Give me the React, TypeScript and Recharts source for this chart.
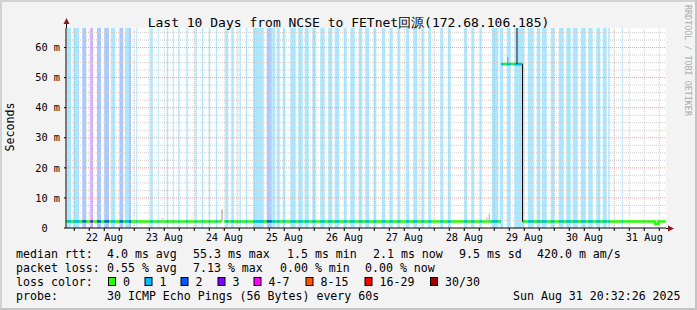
import { ComposedChart, Line, XAxis, YAxis, ReferenceArea, ReferenceLine } from "recharts";

const MONO = "'DejaVu Sans Mono', 'Liberation Mono', monospace";

// time is in hours since 22 Aug 00:00
const T_START = -3.3;
const T_END = 236.7;
const Y_MAX = 66.5;

const DAY_LABELS = ["22 Aug", "23 Aug", "24 Aug", "25 Aug", "26 Aug", "27 Aug", "28 Aug", "29 Aug", "30 Aug", "31 Aug"];
const DAY_NOONS = [12, 36, 60, 84, 108, 132, 156, 180, 204, 228];
const MIDNIGHTS = [0, 24, 48, 72, 96, 120, 144, 168, 192, 216];
const SIX_HOURS = [
  0, 6, 12, 18, 24, 30, 36, 42, 48, 54, 60, 66, 72, 78, 84, 90, 96, 102, 108, 114,
  120, 126, 132, 138, 144, 150, 156, 162, 168, 174, 180, 186, 192, 198, 204, 210, 216, 222, 228, 234,
];
const Y_TICKS = [0, 10, 20, 30, 40, 50, 60];
const Y_MINOR = [2.5, 5, 7.5, 12.5, 15, 17.5, 22.5, 25, 27.5, 32.5, 35, 37.5, 42.5, 45, 47.5, 52.5, 55, 57.5, 62.5, 65];

const LOSS_LABELS = ["0", "1", "2", "3", "4-7", "8-15", "16-29", "30/30"];
const LOSS_COLORS = ["#26ff00", "#00b8ff", "#0059ff", "#7e00ff", "#ff00ff", "#ff5500", "#ff0000", "#a10000"];

// packet loss intervals: [from h, to h, loss colour index]
const LOSS_STRIPES: [number, number, number][] = [
  [-2.9, -1.3, 1], [-0.3, 2.0, 1], [3.2, 4.8, 2], [6.4, 7.5, 3], [9.1, 10.7, 2],
  [12.0, 13.9, 2], [14.7, 16.4, 1], [18.1, 19.6, 2], [20.3, 21.9, 1], [21.9, 22.7, 2],
  [24.8, 25.2, 1], [30.4, 31.4, 1], [33.4, 33.8, 1], [37.0, 37.6, 1], [39.4, 39.8, 1],
  [41.6, 42.0, 1], [44.8, 45.4, 1], [48.4, 49.0, 1], [51.0, 51.6, 1], [53.8, 54.4, 1],
  [56.6, 57.2, 1], [60.4, 61.6, 1], [62.8, 63.8, 1], [65.0, 65.4, 1], [66.2, 66.6, 1],
  [68.6, 69.2, 1], [71.6, 75.8, 1], [77.0, 79.0, 2], [79.2, 80.4, 1], [81.0, 82.2, 1],
  [83.4, 84.4, 1], [86.4, 88.6, 1], [89.6, 91.4, 1], [92.2, 93.8, 1], [95.2, 96.6, 1],
  [98.4, 100.2, 1], [101.6, 103.2, 1], [104.2, 106.0, 1], [107.8, 109.0, 1], [110.4, 112.2, 1],
  [113.8, 115.2, 1], [116.4, 118.0, 1], [119.8, 120.8, 1], [123.0, 124.4, 1], [126.2, 127.4, 1],
  [129.2, 130.4, 1], [132.6, 134.0, 1], [135.6, 137.2, 1], [138.8, 140.0, 1], [141.6, 142.8, 1],
  [146.4, 147.6, 1], [149.4, 150.6, 1], [156.0, 157.2, 1], [158.8, 160.0, 1], [162.2, 163.0, 1],
  [167.0, 169.6, 1], [170.2, 171.6, 1], [173.0, 174.6, 1], [176.0, 180.0, 1], [181.4, 183.8, 1],
  [185.0, 186.4, 1], [187.0, 189.0, 1], [190.6, 192.0, 1], [193.8, 195.8, 1], [196.8, 198.6, 1],
  [199.4, 201.4, 1], [202.6, 204.6, 1], [205.6, 207.4, 1], [208.8, 210.4, 1], [211.4, 213.0, 1],
  [213.6, 214.2, 1], [219.0, 219.4, 1],
];

// median rtt in ms as steps: [from h, to h, ms]
const MEDIAN_STEPS: [number, number, number][] = [
  [-3.3, 59.0, 2.2],
  [60.0, 170.6, 2.2],
  [170.8, 179.3, 54.5],
  [179.3, 232.3, 2.2],
  [232.3, 233.6, 1.4],
  [233.6, 236.6, 2.2],
];

// smoke: [h, lowest ms, highest ms, pings in range]
const SMOKE: [number, number, number, number][] = [
  [35.2, 2.2, 3.4, 2],
  [47.1, 2.2, 3.0, 2],
  [59.1, 2.2, 6.2, 8],
  [165.0, 2.2, 3.6, 3],
  [166.0, 2.2, 4.6, 6],
  [173.4, 54.5, 56.9, 8],
  [177.1, 54.5, 66.5, 28],
  [179.3, 2.2, 54.5, 30],
];

const RTT_STATS = ["4.0 ms avg", "55.3 ms max", "1.5 ms min", "2.1 ms now", "9.5 ms sd", "420.0 m am/s"];
const LOSS_STATS = ["0.55 % avg", "7.13 % max", "0.00 % min", "0.00 % now"];
const TITLE = "Last 10 Days from NCSE to FETnet回源(172.68.106.185)";
const PROBE = "30 ICMP Echo Pings (56 Bytes) every 60s";
const STAMP = "Sun Aug 31 20:32:26 2025";

const RTT_X = [107, 193, 287, 373, 459, 537];
const LOSS_X = [107, 193, 280, 365];
const BOX_X = [108.5, 145, 181, 218, 254, 306, 365, 430.5];

const tint = (hex: string, k: number) => {
  const n = parseInt(hex.slice(1), 16);
  const ch = [(n >> 16) & 255, (n >> 8) & 255, n & 255].map((c) => Math.round(255 - (255 - c) * k));
  return `rgb(${ch.join(",")})`;
};

const medianData: { t: number; ms: number | null }[] = [];
MEDIAN_STEPS.forEach(([a, b, v], i) => {
  const prev = MEDIAN_STEPS[i - 1];
  if (prev && (a > prev[1] || Math.abs(v - prev[2]) > 10)) {
    medianData.push({ t: (prev[1] + a) / 2, ms: null });
  }
  medianData.push({ t: a, ms: v }, { t: b, ms: v });
});

const lossPieces = LOSS_STRIPES.flatMap(([a, b, lvl]) =>
  MEDIAN_STEPS.filter(([s, e]) => e > a && s < b).map(([s, e, v]) => ({
    x1: Math.max(a, s),
    x2: Math.min(b, e),
    y: v,
    lvl,
  }))
);

const dayLabel = (v: number) => {
  const i = DAY_NOONS.indexOf(v);
  return i >= 0 ? DAY_LABELS[i] : "";
};

const LINE_W = 2.5;

export default function App() {
  return (
    <div
      style={{
        position: "absolute",
        left: 0,
        top: 0,
        width: 697,
        height: 310,
        background: "#f3f3f3",
        fontFamily: MONO,
      }}
    >
      <ComposedChart
        width={697}
        height={310}
        data={medianData}
        margin={{ top: 28, right: 31, bottom: 52, left: 16 }}
      >
        <ReferenceArea x1={T_START} x2={T_END} y1={0} y2={Y_MAX} fill="#ffffff" fillOpacity={1} stroke="none" />
        {LOSS_STRIPES.map(([a, b, lvl], i) => (
          <ReferenceArea
            key={`s${i}`}
            x1={a}
            x2={b}
            y1={0}
            y2={Y_MAX}
            fill={tint(LOSS_COLORS[lvl], 0.33)}
            fillOpacity={1}
            stroke="none"
          />
        ))}
        {Y_MINOR.map((v) => (
          <ReferenceLine key={`ym${v}`} y={v} stroke="#cfcfcf" strokeDasharray="1 1" />
        ))}
        {SIX_HOURS.filter((v) => !MIDNIGHTS.includes(v)).map((v) => (
          <ReferenceLine key={`xm${v}`} x={v} stroke="#cfcfcf" strokeDasharray="1 1" />
        ))}
        {Y_TICKS.filter((v) => v > 0).map((v) => (
          <ReferenceLine key={`yM${v}`} y={v} stroke="#f0a0a0" strokeDasharray="1 1" />
        ))}
        {MIDNIGHTS.map((v) => (
          <ReferenceLine key={`xM${v}`} x={v} stroke="#f0a0a0" strokeDasharray="1 1" />
        ))}
        <XAxis
          dataKey="t"
          type="number"
          domain={[T_START, T_END]}
          allowDataOverflow
          ticks={SIX_HOURS}
          interval={0}
          tickFormatter={dayLabel}
          tickSize={3}
          tickMargin={3}
          height={30}
          axisLine={{ stroke: "#000" }}
          tickLine={{ stroke: "#000" }}
          tick={{ fontSize: 10.3, fontFamily: MONO, fill: "#000" }}
        />
        <YAxis
          type="number"
          domain={[0, Y_MAX]}
          allowDataOverflow
          ticks={Y_TICKS}
          interval={0}
          width={50}
          tickSize={2}
          tickMargin={4}
          tickFormatter={(v: number) => (v === 0 ? "0\u00a0\u00a0" : `${v} m`)}
          axisLine={{ stroke: "#000" }}
          tickLine={{ stroke: "#000" }}
          tick={{ fontSize: 10.3, fontFamily: MONO, fill: "#000" }}
        />
        <Line
          dataKey="ms"
          type="linear"
          stroke={LOSS_COLORS[0]}
          strokeWidth={LINE_W}
          dot={false}
          activeDot={false}
          connectNulls={false}
          isAnimationActive={false}
        />
        {lossPieces.map((p, i) => (
          <ReferenceLine
            key={`p${i}`}
            segment={[
              { x: p.x1, y: p.y },
              { x: p.x2, y: p.y },
            ]}
            stroke={LOSS_COLORS[p.lvl]}
            strokeWidth={LINE_W}
          />
        ))}
        {SMOKE.map(([t, lo, hi, n], i) => {
          const g = Math.round(200 - (n / 30) * 190);
          return (
            <ReferenceLine
              key={`k${i}`}
              segment={[
                { x: t, y: lo },
                { x: t, y: hi },
              ]}
              stroke={`rgb(${g},${g},${g})`}
              strokeWidth={1}
            />
          );
        })}
      </ComposedChart>

      <svg
        width={697}
        height={310}
        style={{ position: "absolute", left: 0, top: 0, pointerEvents: "none" }}
        fontFamily={MONO}
      >
        <line x1={0} y1={1} x2={697} y2={1} stroke="#d2d2d2" strokeWidth={2} />
        <line x1={1} y1={0} x2={1} y2={310} stroke="#d2d2d2" strokeWidth={2} />
        <line x1={0} y1={309} x2={697} y2={309} stroke="#c4c4c4" strokeWidth={2} />
        <line x1={696} y1={0} x2={696} y2={310} stroke="#c4c4c4" strokeWidth={2} />

        <line x1={66.5} y1={28} x2={66.5} y2={23} stroke="#000" />
        <polygon points="63.5,24 69.5,24 66.5,18" fill="#8a1a1a" />
        <line x1={666} y1={228.5} x2={669} y2={228.5} stroke="#000" />
        <polygon points="668,225.5 668,231.5 674,228.5" fill="#8a1a1a" />

        <text x={348.5} y={27} textAnchor="middle" fontSize={13} fill="#000">
          {TITLE}
        </text>
        <text transform="translate(14,127) rotate(-90)" textAnchor="middle" fontSize={11.6} fill="#000">
          Seconds
        </text>
        <text transform="translate(684.5,5) rotate(90)" fontSize={8.4} fill="#ababab">
          RRDTOOL / TOBI OETIKER
        </text>

        <g fontSize={11.6} fill="#000">
          <text x={16} y={258}>median rtt:</text>
          {RTT_STATS.map((s, i) => (
            <text key={s} x={RTT_X[i]} y={258}>
              {s}
            </text>
          ))}
          <text x={16} y={272}>packet loss:</text>
          {LOSS_STATS.map((s, i) => (
            <text key={`l${i}`} x={LOSS_X[i]} y={272}>
              {s}
            </text>
          ))}
          <text x={16} y={286}>loss color:</text>
          {LOSS_LABELS.map((s, i) => (
            <g key={s}>
              <rect x={BOX_X[i]} y={277.5} width={7} height={8} fill={LOSS_COLORS[i]} stroke="#000" />
              <text x={BOX_X[i] + 14.5} y={286}>
                {s}
              </text>
            </g>
          ))}
          <text x={16} y={300}>probe:</text>
          <text x={107} y={300}>{PROBE}</text>
          <text x={513} y={300}>{STAMP}</text>
        </g>
      </svg>
    </div>
  );
}
